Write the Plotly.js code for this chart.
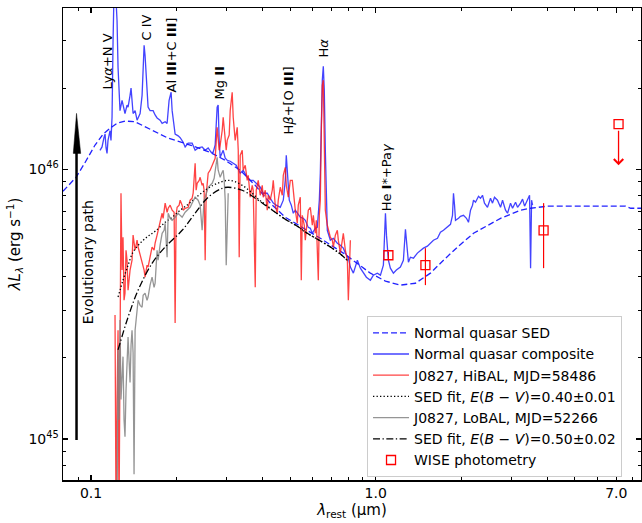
<!DOCTYPE html>
<html><head><meta charset="utf-8">
<script src="https://cdn.plot.ly/plotly-3.0.1.min.js"></script>
<style>html,body{margin:0;padding:0;background:#fff}#plot{width:642px;height:523px}</style>
</head><body><div id="plot"></div>
<script>
// ---- data (wavelength in micron, luminosity in erg/s) ----
const sedLam = [0.0797,0.0844,0.0886,0.0953,0.1033,0.1102,0.1166,0.1234,0.1316,0.1428,0.1612,0.1850,0.2229,0.2621,0.2960,0.3342,0.3774,0.4261,0.4812,0.5433,0.6389,0.7695,0.8483,0.9578,1.082,1.221,1.379,1.557,1.730,1.954,2.206,2.470,2.745,3.227,3.500,4.02,7.553,7.865,8.55];
const sedLum = [8.29e45,8.80e45,9.34e45,10.6e45,12.3e45,13.5e45,14.2e45,14.8e45,15.1e45,15.0e45,14.1e45,13.1e45,12.3e45,11.56e45,10.8e45,9.92e45,8.72e45,7.49e45,6.64e45,6.15e45,5.55e45,4.89e45,4.52e45,4.12e45,3.85e45,3.72e45,3.78e45,4.12e45,4.60e45,5.19e45,5.79e45,6.20e45,6.58e45,7.05e45,7.17e45,7.30e45,7.30e45,7.17e45,7.17e45];

const compLam = [0.1075,0.1093,0.1110,0.1120,0.1129,0.1138,0.1147,0.1166,0.1175,0.1185,
0.1195,0.1204,0.1224,0.1234,0.1244,0.1264,0.1285,0.1316,0.1338,0.1349,
0.1371,0.1382,0.1405,0.1428,0.1451,0.1487,0.1511,0.1524,0.1536,0.1548,
0.1561,0.1586,0.1612,0.1652,0.1679,0.1706,0.1748,0.1777,0.1821,0.1850,
0.1880,0.1911,0.1927,0.1974,0.2023,0.2056,0.2107,0.2141,0.2194,0.2265,
0.2321,0.2378,0.2456,0.2517,0.2579,0.2642,0.2685,0.2729,0.2773,0.2796,
0.2819,0.2842,0.2912,0.2960,0.3008,0.3082,0.3158,0.3235,0.3342,0.3424,
0.3537,0.3624,0.3713,0.3804,0.3930,0.4027,0.4159,0.4261,0.4366,0.4473,
0.4621,0.4735,0.4812,0.4851,0.4891,0.4970,0.5052,0.5134,0.5218,0.5303,
0.5433,0.5566,0.5658,0.5797,0.5892,0.5988,0.6135,0.6235,0.6337,0.6389,
0.6441,0.6492,0.6545,0.6598,0.6653,0.6706,0.6760,0.6928,0.7098,0.7331,
0.7512,0.7695,0.7823,0.8015,0.8146,0.8347,0.8483,0.8621,0.8833,0.9051,
0.9273,0.9578,0.9813,1.013,1.039,1.064,1.082,1.091,1.108,1.126,
1.154,1.182,1.221,1.251,1.262,1.272,1.282,1.303,1.324,1.357,
1.401,1.436,1.471,1.519,1.557,1.595,1.648,1.688,1.730,1.787,
1.831,1.861,1.876,1.892,1.907,1.954,1.985,2.034,2.084,2.118,
2.153,2.188,2.206,2.242,2.297,2.334,2.372,2.411,2.470,2.531,
2.572,2.614,2.678,2.745,2.790,2.858,2.905,2.976,3.025,3.099,
3.150,3.227,3.280,3.334,3.415,3.471,3.500,3.528,3.557];
const compLum = [11.76e45,12.1e45,13.1e45,13.5e45,12.0e45,11.46e45,12.8e45,13.9e45,12.8e45,15.6e45,
30.0e45,45e45,42.3e45,35.6e45,23.9e45,16.5e45,18.0e45,16.1e45,17.3e45,17.0e45,
18.8e45,20.0e45,16.1e45,16.5e45,15.2e45,16.1e45,18.8e45,22.7e45,28.8e45,26.4e45,
22.7e45,17.0e45,16.5e45,16.5e45,15.9e45,15.5e45,15.2e45,14.8e45,15.0e45,14.8e45,
18.0e45,19.3e45,16.5e45,13.5e45,13.3e45,13.1e45,12.6e45,12.1e45,12.5e45,12.5e45,
11.76e45,12.0e45,12.1e45,11.76e45,12.0e45,11.56e45,11.56e45,12.3e45,17.0e45,17.3e45,
12.8e45,11.08e45,11.76e45,10.99e45,10.80e45,10.71e45,10.53e45,10.35e45,9.67e45,9.92e45,
9.34e45,9.10e45,9.10e45,8.87e45,8.58e45,8.15e45,8.15e45,7.81e45,7.49e45,7.36e45,
7.23e45,7.68e45,9.10e45,11.27e45,9.50e45,7.68e45,7.36e45,6.87e45,7.05e45,6.87e45,
6.64e45,6.58e45,6.47e45,6.09e45,6.04e45,5.79e45,6.04e45,6.09e45,7.68e45,9.67e45,
15.2e45,21.4e45,24.1e45,19.6e45,11.76e45,7.68e45,5.94e45,5.46e45,5.55e45,5.32e45,
5.23e45,5.10e45,4.89e45,4.68e45,4.34e45,4.12e45,4.41e45,4.60e45,4.30e45,4.12e45,
3.98e45,3.88e45,4.05e45,4.12e45,4.05e45,4.41e45,6.87e45,5.70e45,4.60e45,4.30e45,
4.12e45,4.23e45,4.34e45,4.60e45,5.70e45,5.99e45,5.46e45,4.52e45,4.72e45,4.68e45,
4.89e45,5.01e45,5.10e45,5.19e45,5.32e45,5.46e45,5.55e45,5.84e45,5.94e45,6.09e45,
6.25e45,6.75e45,8.15e45,7.36e45,6.47e45,6.58e45,6.69e45,6.75e45,6.58e45,6.36e45,
7.05e45,7.36e45,7.68e45,7.55e45,7.94e45,7.81e45,8.01e45,7.49e45,7.23e45,7.81e45,
7.49e45,7.88e45,7.68e45,7.23e45,7.68e45,7.05e45,6.87e45,7.49e45,7.17e45,7.55e45,
7.23e45,7.49e45,7.75e45,7.30e45,7.68e45,8.01e45,4.30e45,7.68e45,7.36e45];

const hiLam = [0.1214,0.1224,0.1234,0.1244,0.1254,0.1264,0.1274,0.1285,0.1295,0.1306,
0.1316,0.1327,0.1338,0.1349,0.1371,0.1393,0.1405,0.1428,0.1451,0.1463,
0.1487,0.1511,0.1536,0.1548,0.1573,0.1586,0.1612,0.1638,0.1665,0.1679,
0.1706,0.1720,0.1748,0.1777,0.1791,0.1821,0.1850,0.1866,0.1896,0.1927,
0.1958,0.1974,0.1990,0.2006,0.2039,0.2056,0.2089,0.2107,0.2141,0.2194,
0.2229,0.2265,0.2284,0.2321,0.2340,0.2359,0.2398,0.2417,0.2456,0.2476,
0.2496,0.2517,0.2537,0.2579,0.2621,0.2664,0.2685,0.2729,0.2773,0.2796,
0.2819,0.2842,0.2888,0.2912,0.2960,0.2984,0.3008,0.3057,0.3082,0.3107,
0.3132,0.3158,0.3183,0.3209,0.3262,0.3289,0.3315,0.3342,0.3397,0.3424,
0.3480,0.3537,0.3566,0.3624,0.3683,0.3713,0.3774,0.3804,0.3867,0.3930,
0.3994,0.4027,0.4092,0.4159,0.4193,0.4261,0.4331,0.4366,0.4437,0.4510,
0.4546,0.4621,0.4697,0.4735,0.4812,0.4851,0.4931,0.5011,0.5093,0.5176,
0.5218,0.5303,0.5346,0.5433,0.5477,0.5522,0.5612,0.5658,0.5750,0.5797,
0.5892,0.5988,0.6037,0.6135,0.6185,0.6286,0.6337,0.6389,0.6441,0.6492,
0.6545,0.6598,0.6653,0.6760,0.6815,0.6928,0.7041,0.7098,0.7214,0.7331,
0.7391,0.7512,0.7634,0.7695,0.7823,0.7951,0.8015,0.8080,0.8146];
const hiLum = [2.88e45,0.5e45,1.40e45,2.53e45,0.5e45,3.56e45,8.15e45,4.23e45,5.60e45,3.27e45,
3.47e45,5.01e45,4.60e45,3.56e45,4.23e45,4.60e45,5.70e45,5.01e45,5.46e45,5.15e45,
4.80e45,4.48e45,4.23e45,3.98e45,4.41e45,4.34e45,4.80e45,5.15e45,5.01e45,5.32e45,
5.70e45,5.94e45,6.36e45,6.87e45,6.58e45,7.49e45,6.93e45,7.17e45,7.36e45,7.05e45,
6.93e45,2.69e45,6.75e45,7.23e45,7.36e45,7.68e45,7.36e45,7.05e45,7.17e45,7.23e45,
7.68e45,7.81e45,8.15e45,10.53e45,8.36e45,8.87e45,9.10e45,9.34e45,8.72e45,8.87e45,
8.36e45,4.60e45,8.01e45,9.67e45,9.92e45,10.35e45,10.53e45,10.99e45,14.3e45,12.8e45,
11.76e45,12.3e45,13.9e45,15.6e45,13.4e45,11.76e45,12.8e45,13.4e45,16.5e45,18.0e45,
19.3e45,15.6e45,13.9e45,12.8e45,14.3e45,11.76e45,4.72e45,11.27e45,11.76e45,9.92e45,
10.35e45,9.10e45,9.50e45,7.88e45,8.72e45,8.36e45,3.65e45,8.36e45,9.10e45,8.01e45,
8.72e45,7.88e45,8.36e45,7.05e45,8.01e45,7.68e45,8.36e45,9.10e45,7.36e45,6.87e45,
7.68e45,8.58e45,8.01e45,9.50e45,10.17e45,8.72e45,7.88e45,9.10e45,9.10e45,7.36e45,
7.05e45,6.31e45,7.36e45,7.88e45,3.88e45,6.75e45,6.20e45,5.46e45,6.75e45,7.05e45,
7.23e45,6.20e45,6.75e45,5.79e45,6.47e45,3.88e45,6.75e45,7.68e45,13.9e45,20.5e45,
21.4e45,11.76e45,7.05e45,6.20e45,5.94e45,5.60e45,5.46e45,5.15e45,5.70e45,5.94e45,
5.46e45,4.89e45,5.46e45,5.79e45,5.01e45,4.60e45,3.27e45,4.80e45,5.46e45];

const fitHiLam = [0.1244,0.1295,0.1349,0.1405,0.1487,0.1586,0.1679,0.1821,0.1927,0.2056,0.2194,0.2321,0.2517,0.2685,0.2842,0.3008,0.3183,0.3397,0.3624,0.3867,0.4125,0.4437,0.4812,0.5303,0.5750,0.6235,0.6928,0.7512,0.8015];
const fitHiLum = [3.36e45,3.88e45,4.41e45,4.93e45,5.32e45,5.65e45,5.89e45,6.36e45,6.64e45,7.05e45,7.42e45,7.81e45,8.36e45,8.72e45,8.95e45,9.10e45,9.02e45,8.72e45,8.29e45,7.75e45,7.36e45,6.93e45,6.53e45,6.15e45,5.79e45,5.51e45,5.15e45,4.85e45,4.56e45];

const loLam = [0.1234,0.1244,0.1254,0.1264,0.1274,0.1285,0.1295,0.1306,0.1316,0.1327,
0.1338,0.1349,0.1360,0.1371,0.1382,0.1393,0.1405,0.1416,0.1428,0.1440,
0.1451,0.1463,0.1487,0.1511,0.1524,0.1548,0.1573,0.1586,0.1612,0.1638,
0.1665,0.1679,0.1706,0.1720,0.1748,0.1777,0.1806,0.1821,0.1850,0.1866,
0.1896,0.1927,0.1974,0.2023,0.2056,0.2089,0.2141,0.2176,0.2229,0.2265,
0.2321,0.2378,0.2417,0.2456,0.2496,0.2517,0.2558,0.2579,0.2621,0.2664,
0.2707,0.2729,0.2751,0.2773,0.2796,0.2842,0.2888,0.2912,0.2936,0.2960,
0.2984,0.3008,0.3033];
const loLum = [0.5e45,2.14e45,1.18e45,2.76e45,1.40e45,1.62e45,2.02e45,1.18e45,1.02e45,1.52e45,
1.91e45,2.39e45,1.96e45,1.62e45,2.23e45,2.53e45,2.09e45,0.74e45,2.53e45,2.83e45,
3.00e45,3.27e45,3.13e45,3.08e45,3.41e45,3.47e45,3.27e45,3.36e45,3.72e45,3.98e45,
3.65e45,3.78e45,5.01e45,4.60e45,5.23e45,5.79e45,5.94e45,6.31e45,4.72e45,6.87e45,
6.58e45,6.47e45,6.64e45,6.87e45,6.75e45,6.64e45,6.93e45,7.05e45,7.23e45,7.49e45,
7.88e45,7.68e45,7.36e45,5.94e45,7.68e45,7.88e45,8.36e45,8.58e45,8.72e45,8.87e45,
9.26e45,9.92e45,10.35e45,11.08e45,9.92e45,9.34e45,9.75e45,9.92e45,9.10e45,7.68e45,
4.41e45,7.05e45,8.15e45];

const fitLoLam = [0.1244,0.1349,0.1463,0.1638,0.1821,0.2089,0.2321,0.2579,0.2888,0.3033,0.3397,0.3774,0.4092,0.4437,0.4812,0.5303,0.5750,0.6235,0.6928,0.7512,0.8015];
const fitLoLum = [2.14e45,2.83e45,3.56e45,4.48e45,5.15e45,5.94e45,6.87e45,7.88e45,8.50e45,8.58e45,8.36e45,7.81e45,7.36e45,6.93e45,6.53e45,6.15e45,5.79e45,5.51e45,5.15e45,4.85e45,4.56e45];

const wiseLam = [1.108,1.495,3.888,7.13];
const wiseLum = [4.80e45,4.41e45,5.94e45,14.7e45];
const wiseErrPlus = [0.15e45,0.69e45,1.55e45,0];
const wiseErrMinus = [0.15e45,0.69e45,1.64e45,0];
const wiseLimitTip = 10.35e45;

const xTickVals = [0.1,1,7];
const xTickText = ['0.1','1.0','7.0'];
const xMinor = [0.08,0.09,0.2,0.3,0.4,0.5,0.6,0.7,0.8,0.9,2,3,4,5,6,8];
const yTickVals = [1e45,1e46];
const yTickText = ['10<sup>45</sup>','10<sup>46</sup>'];
const yMinor = [8e44,9e44,2e45,3e45,4e45,5e45,6e45,7e45,8e45,9e45,2e46,3e46];

const lineLabels = ['Ly<i>α</i>+N V','C IV','Al <b>III</b>+C <b>III</b>]','Mg <b>II</b>','H<i>β</i>+[O <b>III</b>]','H<i>α</i>','He <b>I</b>*+Pa<i>γ</i>'];
const lineLabelPos = [[0.0761,0.8868],[0.1453,0.9587],[0.1869,0.8995],[0.2699,0.8402],[0.3893,0.8042],[0.4498,0.9164],[0.5588,0.6413]];

// ---- traces ----
const FONT = 'DejaVu Sans, Arial, sans-serif';
const traces = [
 {x: sedLam, y: sedLum, mode:'lines', name:'Normal quasar SED', line:{color:'#2222ff', width:1.3, dash:'6px,3px'}},
 {x: compLam, y: compLum, mode:'lines', name:'Normal quasar composite', line:{color:'rgba(20,20,255,0.8)', width:1.3}},
 {x: hiLam, y: hiLum, mode:'lines', name:'J0827, HiBAL, MJD=58486', line:{color:'rgba(255,20,20,0.8)', width:1.3}},
 {x: fitHiLam, y: fitHiLum, mode:'lines', name:'SED fit, <i>E</i>(<i>B</i> − <i>V</i>)=0.40±0.01', line:{color:'black', width:1.3, dash:'1.3px,2.2px', shape:'spline'}},
 {x: loLam, y: loLum, mode:'lines', name:'J0827, LoBAL, MJD=52266', line:{color:'rgba(130,130,130,0.85)', width:1.3}},
 {x: fitLoLam, y: fitLoLum, mode:'lines', name:'SED fit, <i>E</i>(<i>B</i> − <i>V</i>)=0.50±0.02', line:{color:'black', width:1.3, dash:'7px,2.5px,1.3px,2.5px', shape:'spline'}},
 {x: wiseLam, y: wiseLum, mode:'markers', name:'WISE photometry',
  marker:{symbol:'square-open', size:9, color:'red', line:{width:1.3, color:'red'}},
  error_y:{type:'data', symmetric:false, array: wiseErrPlus, arrayminus: wiseErrMinus, color:'red', thickness:1.2, width:0}}
];

const annotations = lineLabels.map((t,i)=>({
  text:t, xref:'paper', yref:'paper', x:lineLabelPos[i][0], y:lineLabelPos[i][1],
  textangle:-90, showarrow:false, xanchor:'center', yanchor:'middle',
  font:{family:FONT, size:13, color:'black'}
}));
annotations.push({text:'Evolutionary path', xref:'paper', yref:'paper', x:0.0433, y:0.4614,
  textangle:-90, showarrow:false, xanchor:'center', yanchor:'middle', font:{family:FONT, size:14, color:'black'}});
annotations.push({text:'', xref:'x', yref:'y', x:Math.log10(wiseLam[3]), y:Math.log10(wiseLimitTip),
  showarrow:true, arrowhead:4, arrowsize:1.4, arrowwidth:1.3, arrowcolor:'red', ax:0, ay:-36});

const shapes = [
  {type:'line', xref:'paper', yref:'paper', x0:0.0234, x1:0.0234, y0:0.0847, y1:0.70, line:{color:'black', width:2.5}},
  {type:'path', xref:'paper', yref:'paper', path:'M0.0178,0.692 L0.0306,0.692 L0.0234,0.7767 Z', fillcolor:'black', line:{color:'black', width:0.5}}
];

const axisCommon = {
  type:'log', showgrid:false, zeroline:false, showline:true, linecolor:'black', linewidth:1.5,
  mirror:'ticks', ticks:'inside', ticklen:5, tickwidth:1.2, tickcolor:'black',
  tickfont:{family:FONT, size:14, color:'black'}, tickmode:'array'
};

const layout = {
  width:642, height:523, margin:{l:63, r:1, t:8, b:43},
  paper_bgcolor:'white', plot_bgcolor:'white',
  font:{family:FONT, size:13, color:'black'},
  showlegend:true,
  xaxis: Object.assign({}, axisCommon, {
    range:[Math.log10(0.0797), Math.log10(8.55)], tickvals:xTickVals, ticktext:xTickText,
    minor:{tickmode:'array', tickvals:xMinor, ticks:'inside', ticklen:3, tickwidth:1, tickcolor:'black', showgrid:false},
    title:{text:'<i>λ</i><sub>rest</sub> (μm)', font:{family:FONT, size:15}, standoff:4}
  }),
  yaxis: Object.assign({}, axisCommon, {
    range:[44.848, 46.598], tickvals:yTickVals, ticktext:yTickText,
    minor:{tickmode:'array', tickvals:yMinor, ticks:'inside', ticklen:3, tickwidth:1, tickcolor:'black', showgrid:false},
    title:{text:'<i>λL</i><sub><i>λ</i></sub> (erg s<sup>−1</sup>)', font:{family:FONT, size:15}, standoff:4}
  }),
  legend:{x:0.526, y:0.347, xanchor:'left', yanchor:'top', bgcolor:'white', bordercolor:'#cccccc', borderwidth:1,
    font:{family:FONT, size:14}, tracegroupgap:0, itemwidth:36},
  annotations: annotations,
  shapes: shapes
};

Plotly.newPlot('plot', traces, layout, {staticPlot:true});
</script></body></html>
